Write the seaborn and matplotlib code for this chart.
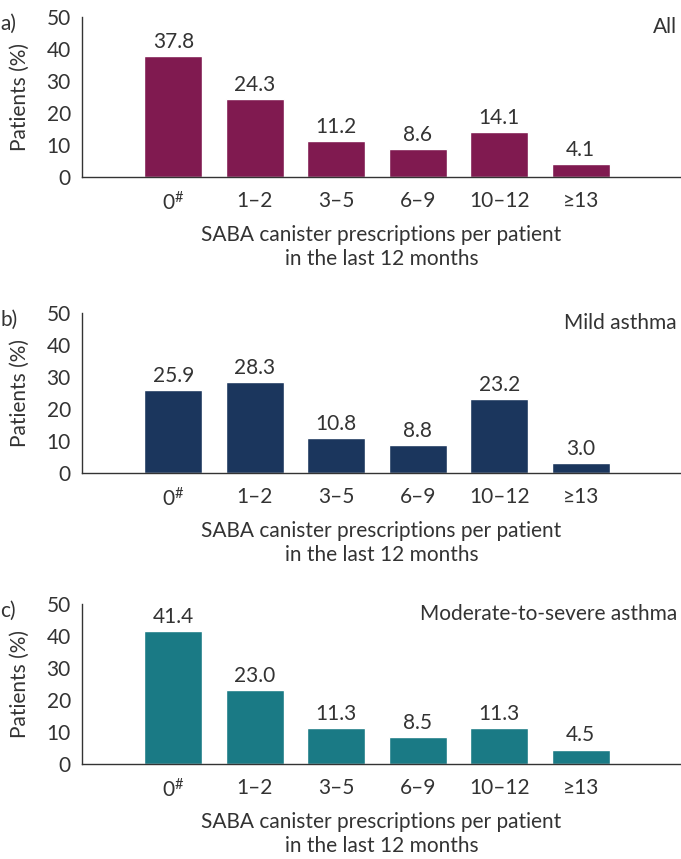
import numpy as np
import pandas as pd
import matplotlib
matplotlib.use("Agg")
import matplotlib.pyplot as plt
import seaborn as sns

sns.set_style("white")
plt.rcParams["font.family"] = ["Lato", "DejaVu Sans"]
plt.rcParams["mathtext.fontset"] = "custom"
plt.rcParams["mathtext.rm"] = "Lato"
plt.rcParams["mathtext.it"] = "Lato"

# data
categories = ["0$^{\\mathrm{\\#}}$", "1–2", "3–5", "6–9", "10–12", "≥13"]
all_pct = [37.8, 24.3, 11.2, 8.6, 14.1, 4.1]
mild_pct = [25.9, 28.3, 10.8, 8.8, 23.2, 3.0]
modsev_pct = [41.4, 23.0, 11.3, 8.5, 11.3, 4.5]

panels = [("a)", "All", all_pct, "#801a50"),
          ("b)", "Mild asthma", mild_pct, "#1b365d"),
          ("c)", "Moderate-to-severe asthma", modsev_pct, "#1a7a85")]

fig = plt.figure(figsize=(6.81, 8.59), dpi=100)
# axes boxes [left, bottom, width, height] in figure fraction
boxes = [[0.1204, 0.794, 0.8796, 0.1863],
         [0.1204, 0.4494, 0.8796, 0.1863],
         [0.1204, 0.1106, 0.8796, 0.1863]]

txt = "#333333"
fs = 15
for (letter, name, vals, col), box in zip(panels, boxes):
    ax = fig.add_axes(box)
    df = pd.DataFrame({"cat": categories, "pct": vals})
    sns.barplot(data=df, x="cat", y="pct", order=categories, color=col,
                saturation=1, width=0.71, ax=ax)
    ax.bar_label(ax.containers[0], fmt="%.1f", padding=3, fontsize=fs, color=txt)
    ax.set_xlim(-1.12, 6.23)
    ax.set_ylim(0, 50)
    ax.set_yticks([0, 10, 20, 30, 40, 50])
    ax.set_ylabel("Patients (%)", fontsize=fs, color=txt, labelpad=12)
    ax.set_xlabel("SABA canister prescriptions per patient\nin the last 12 months",
                  fontsize=fs, color=txt, labelpad=8, linespacing=1.25)
    ax.tick_params(axis="y", length=5, width=1, color=txt, labelsize=fs, labelcolor=txt, pad=3)
    ax.tick_params(axis="x", length=0, labelsize=fs, labelcolor=txt, pad=10)
    for s in ["top", "right"]:
        ax.spines[s].set_visible(False)
    for s in ["left", "bottom"]:
        ax.spines[s].set_color(txt)
        ax.spines[s].set_linewidth(1)
    ax.text(0.993, 1.0, name, transform=ax.transAxes, ha="right", va="top",
            fontsize=fs, color=txt)
    fig.text(0.0, box[1] + box[3] + 0.004, letter, ha="left", va="top",
             fontsize=fs, color=txt)

fig.savefig("out.png", dpi=100)
